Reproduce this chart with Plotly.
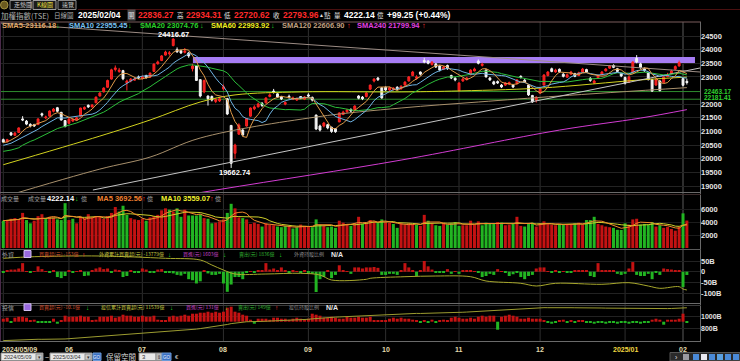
import numpy as np
import pandas as pd
import plotly.graph_objects as go

W, H = 740, 361

# ---------------- categories ----------------
month_labels = ["2024/05/09", "06", "07", "08", "09", "10", "11", "12", "2025/01", "02"]
month_days = [17, 19, 21, 22, 20, 19, 21, 22, 15, 2]

# ---------------- daily OHLC (TAIEX) ----------------
opens = [
    20700, 20620, 20950, 20860, 20960, 21460, 21380, 21260, 21250, 21250, 21650, 21500, 21560, 21740, 21870, 21700, 21400,
    21300, 21380, 21420, 21560, 21820, 21960, 21900, 22050, 22300, 22450, 22620, 22920, 23270, 23200, 23230, 22780, 22850, 22880, 23000,
    22950, 23050, 22990, 23200, 23480, 23600, 23800, 23850, 24150, 24000, 23960, 23900, 23880, 23300, 23400, 22900, 22450, 22300, 22280, 22100, 22120,
    22560, 22200, 21220, 20200, 20900, 21050, 21200, 21560, 21830, 21900, 22030, 22050, 22280, 22480, 22380, 22260, 22000, 22290, 22180, 22150, 22280, 22180,
    22340, 22250, 21600, 21200, 21200, 21250, 21150, 21100, 21350, 21620, 21720, 21800, 21800, 22300, 22260, 22280, 22550, 22850, 22960, 22600,
    22620, 22520, 22540, 22620, 22560, 22700, 22850, 23050, 22950, 23180, 23600, 23580, 23450, 23480, 23400, 23280, 23420, 23050, 22950,
    22500, 22850, 22900, 23080, 23220, 23580, 23420, 23250, 22960, 22820, 22830, 22700, 22700, 22740, 22700, 22750, 23020, 22880, 22700, 22320, 22150,
    22400, 22700, 23050, 23300, 23180, 23280, 23100, 22990, 23100, 23120, 23050, 23180, 23270, 22950, 22780, 22970, 23080, 23220, 23320, 23420, 23300, 23120,
    22980, 22800, 23150, 23680, 23480, 23300, 23150, 22900, 22700, 22850, 22800, 23010, 23130, 23280, 23400,
    22940, 22836.27,
]
highs = [
    20740, 20730, 20980, 20980, 21150, 21560, 21420, 21300, 21280, 21480, 21690, 21580, 21770, 21860, 21900, 21720, 21420,
    21480, 21470, 21530, 21870, 21920, 21990, 22000, 22280, 22440, 22620, 22900, 23300, 23420, 23330, 23260, 22900, 22960, 22990, 23050,
    23050, 23080, 23160, 23490, 23600, 23800, 23960, 23950, 24416.67, 24080, 24000, 24060, 23920, 23480, 23420, 22920, 22900, 22320, 22320, 22220, 22260,
    22720, 22230, 21240, 20550, 21300, 21100, 21490, 21880, 21960, 22060, 22080, 22250, 22400, 22560, 22400, 22290, 22100, 22350, 22280, 22240, 22300, 22300,
    22400, 22280, 21620, 21250, 21350, 21280, 21180, 21120, 21700, 21760, 21830, 21850, 21960, 22330, 22300, 22440, 22720, 22950, 23000, 22620,
    22650, 22640, 22620, 22660, 22690, 22840, 23030, 23220, 23060, 23200, 23700, 23620, 23580, 23500, 23420, 23400, 23450, 23080, 23000,
    22800, 22960, 23000, 23280, 23340, 23640, 23520, 23280, 23000, 22860, 22870, 22740, 22810, 22830, 22730, 22920, 23060, 22920, 22720, 22340, 22290,
    22600, 23100, 23210, 23340, 23300, 23310, 23140, 23120, 23220, 23150, 23190, 23330, 23300, 22990, 22900, 23090, 23210, 23320, 23440, 23460, 23330, 23150,
    23010, 23040, 23580, 23800, 23520, 23350, 23180, 22930, 22950, 22880, 23030, 23150, 23260, 23420, 23600,
    22960, 22934.31,
]
lows = [
    20580, 20600, 20840, 20830, 20950, 21380, 21230, 21150, 21170, 21240, 21540, 21450, 21540, 21700, 21700, 21400, 21150,
    21280, 21350, 21400, 21550, 21790, 21860, 21880, 22040, 22280, 22430, 22600, 22900, 23200, 23150, 22880, 22500, 22800, 22860, 22920,
    22900, 22940, 22970, 23190, 23450, 23580, 23780, 23780, 24120, 23880, 23840, 23860, 23700, 23200, 22850, 22250, 22400, 21950, 22100, 22040, 22080,
    22500, 21600, 19662.74, 20000, 20880, 20820, 21180, 21540, 21780, 21880, 21900, 22030, 22250, 22390, 22230, 22150, 21960, 22200, 22150, 22120, 22190, 22150,
    22260, 22100, 21050, 21000, 21150, 21080, 20950, 20950, 21340, 21600, 21680, 21700, 21780, 22180, 22150, 22250, 22520, 22800, 22850, 22200,
    22480, 22480, 22500, 22520, 22540, 22680, 22830, 23030, 22900, 23050, 23500, 23460, 23420, 23330, 23200, 23250, 23260, 22920, 22840,
    22450, 22820, 22870, 23060, 23200, 23460, 23380, 22980, 22850, 22700, 22740, 22590, 22670, 22700, 22590, 22720, 22940, 22780, 22300, 22050, 22060,
    22380, 22690, 23020, 23170, 23150, 23150, 22980, 22960, 23080, 22990, 23030, 23150, 23140, 22820, 22740, 22950, 23060, 23200, 23300, 23320, 23170, 22990,
    22720, 22780, 23140, 23500, 23300, 23180, 22870, 22450, 22680, 22470, 22780, 22990, 23100, 23260, 23380,
    22650, 22720.62,
]
closes = [
    20610, 20700, 20870, 20940, 21130, 21420, 21270, 21200, 21200, 21460, 21600, 21530, 21750, 21820, 21740, 21420, 21180,
    21460, 21440, 21500, 21860, 21880, 21900, 21970, 22260, 22410, 22590, 22870, 23260, 23330, 23250, 22930, 22850, 22920, 22920, 22960,
    23000, 22970, 23140, 23470, 23550, 23770, 23910, 23880, 24390, 23920, 23880, 23950, 23770, 23400, 22870, 22300, 22870, 22200, 22150, 22170, 22200,
    22640, 21640, 19830, 20500, 21240, 20870, 21470, 21860, 21900, 22010, 21950, 22230, 22340, 22450, 22260, 22190, 22060, 22260, 22230, 22190, 22230, 22265,
    22300, 22150, 21090, 21050, 21310, 21130, 21000, 20990, 21680, 21710, 21790, 21750, 21930, 22220, 22200, 22410, 22700, 22920, 22900, 22230,
    22520, 22600, 22590, 22550, 22660, 22810, 23000, 23180, 23000, 23100, 23550, 23500, 23540, 23360, 23250, 23360, 23300, 22960, 22890,
    22780, 22920, 22960, 23250, 23290, 23500, 23470, 23000, 22890, 22740, 22780, 22630, 22780, 22790, 22630, 22890, 22980, 22810, 22340, 22080, 22260,
    22560, 23070, 23180, 23200, 23250, 23190, 23020, 23080, 23180, 23020, 23150, 23290, 23180, 22870, 22850, 23050, 23180, 23290, 23400, 23350, 23200, 23035,
    22770, 23000, 23540, 23550, 23340, 23230, 22900, 22480, 22900, 22500, 23000, 23080, 23220, 23380, 23525,
    22694.71, 22793.96,
]
prior_closes = [20400, 20200, 20150, 20250, 19530, 19700, 20000, 20170, 19990, 20120,
                20380, 20400, 20220, 20420, 20520, 20560, 20530, 20600, 20650]

sma60_idx = [0, 25, 38, 51, 60, 77, 103, 116, 139, 165, 177]
sma60_val = [19780, 20830, 21420, 22080, 22340, 22450, 22450, 22480, 22590, 22890, 22993.92]
sma120_idx = [0, 25, 38, 51, 81, 103, 123, 144, 177]
sma120_val = [18600, 19620, 20060, 20760, 21530, 21860, 22080, 22300, 22606.90]
sma240_idx = [0, 55, 103, 144, 165, 177]
sma240_val = [17550, 18850, 19950, 21050, 21490, 21799.94]

# drawn objects (index, price)
band_idx = [49.1, 179.1]
band_price = [23470, 23730]
support_levels = [22463.17, 22181.41]
trend_down_idx = [-0.85, 180.4]
trend_down_price = [24977, 23180]
trend_up_idx = [23.2, 180.4]
trend_up_price = [18853, 23327]
high_mark = (44, 24416.67)
low_mark = (59, 19662.74)

# ---------------- volume (億) ----------------
volume = [
    4200, 4300, 4500, 4600, 4400, 5400, 4300, 3800, 4200, 4900, 5200, 4600, 4800, 4700, 4400, 4300, 6900,
    4300, 4500, 3800, 4800, 4600, 5200, 4700, 4900, 4800, 4500, 4900, 5400, 6300, 5600, 6500, 5100, 4600, 4400, 4300,
    4500, 4200, 4700, 4900, 5100, 5800, 6100, 5900, 5600, 6100, 4800, 5900, 5000, 5000, 5000, 5200, 4600, 4500, 3800, 3900, 4100,
    4400, 5400, 6800, 6100, 4700, 4600, 4400, 3700, 3900, 3700, 3300, 3800, 3600, 3500, 3300, 3200, 3400, 3300, 3000, 3200, 3600, 3400,
    3300, 3200, 4400, 3600, 3400, 3200, 3300, 3100, 4200, 3900, 3700, 3400, 3800, 4800, 3700, 3900, 4300, 4100, 3900, 4400,
    4000, 3900, 3700, 3100, 3800, 3600, 3800, 3700, 3600, 3400, 5100, 4200, 3800, 3500, 3400, 3900, 3600, 3800, 4000,
    3400, 3500, 3500, 4200, 3600, 4100, 3500, 3900, 3700, 3700, 4000, 3900, 3500, 3600, 3700, 4800, 3400, 3300, 3700, 3900, 3300,
    3800, 4100, 3700, 3600, 3500, 3600, 3600, 3700, 3600, 3800, 3900, 3600, 4300, 4300, 4800, 3700, 3500, 3300, 3200, 3100, 2800, 2770,
    3800, 3600, 4400, 4500, 3600, 3700, 3600, 4000, 3300, 3500, 3100, 3250, 2930, 2670, 3280,
    5330, 4222.14,
]

# ---------------- foreign investors net (B = 十億) ----------------
foreign_net = [
    -5, 8, 10, 10, 15, 40, 3, -3, 2, 25, 12, 3, -4, 5, -25, -30, -20,
    4, -5, 3, 6, -20, -18, 5, 15, 20, 12, 15, -4, 10, 8, -25, -20, 5, -6, -5,
    15, 10, -5, -6, 10, 12, -4, -6, -8, -15, -18, -10, -35, -40, -55, -45, 5, -8, -15, -15, -10,
    -55, -94, -60, -25, -25, -35, -5, 3, -4, 5, 8, 40, 10, 15, 5, 20, 4, -3, 5, 3, -4, 6,
    -5, -10, -95, -35, -25, 5, -30, -15, 30, 5, 3, -10, 20, 20, 15, 20, 20, 22, 18, -15,
    -15, -10, -10, -15, 5, 40, 20, 5, -20, 8, 50, 25, 10, -6, -5, -4, 12, -10, 3,
    -10, 5, 6, 4, 3, -3, -25, -20, -10, -15, 12, 3, -3, -20, -12, -4, -25, -35, -20, -15, 15,
    20, 20, 3, -3, 4, -2, 2, -5, -4, 5, 6, 5, 4, -20, -25, 40, 8, 6, 5, 4, -10, -15,
    -10, 15, 45, -15, -20, -20, -10, -35, -5, -15, 15, 12, 10, 5, 5,
    -72, -15.3,
]
foreign_cum_idx = [0, 8, 25, 42, 51, 54, 57, 60, 68, 77, 82, 85, 94, 95, 104, 112, 121, 125, 134, 138,
                   143, 155, 162, 167, 170, 175, 176, 177]
foreign_cum_val = [-1100, -460, -180, -1100, -1780, -3780, -5780, -7380, -7380, -7100, -7780, -9780, -9500,
                   -9100, -8460, -8180, -8460, -10180, -11100, -12180, -11100, -11500, -10860, -12180,
                   -13100, -12460, -13380, -13779]

# ---------------- investment trust net (B) ----------------
trust_net = [
    3, 4, -1, 4, 5, 5, 4, 1, 2, -1, -1, -1, -1, 3, -2, 1, 6,
    5, 5, 5, 6, 5, 5, 1, 2, 5, 5, 5, 6, 4, 5, 7, 6, 6, 5, 5,
    6, 5, 5, 6, 2, 1, 1, 5, 6, 5, 6, 7, 6, 8, 8, 9, 9, 10, 9, 10, 9,
    10, 14, 15, 10, 9, 7, 6, 2, -2, 3, 3, 3, 2, 4, 4, 3, 3, 2, 3, 4, 3, 2,
    3, 8, 7, 6, 4, 4, 5, 4, 3, 3, 5, 4, 4, 5, 4, 4, 5, 1, 1, 1,
    1, 3, 4, 3, 4, 3, 3, 2, 1, -1, 1, -1, 2, -1, 1, 2, 1, 4, 5,
    4, 3, 3, 4, 3, 5, 6, 5, 6, 6, -8, 5, 6, 7, 6, 5, 3, 3, 4, 3, 3,
    3, 1, -1, -2, -1, 1, 2, -1, 1, -1, 1, 1, -1, -1, -2, -1, -1, -2, -1, -1, -2, -1,
    -1, -2, -1, -1, -2, -1, -1, 2, 3, 2, -3, 2, 2, 2, 3,
    8, -1.01,
]
trust_cum_end = 1153.9

N = len(closes)
assert all(len(a) == N for a in [opens, highs, lows, volume, foreign_net, trust_net]), "length"
assert sum(month_days) == N

xi = np.arange(N)
month_start = np.concatenate([[0], np.cumsum(month_days)[:-1]])

# ---------------- derived series ----------------
allc = pd.Series(prior_closes + closes, dtype=float)
sma5 = allc.rolling(5).mean().values[len(prior_closes):]
sma10 = allc.rolling(10).mean().values[len(prior_closes):]
sma20 = allc.rolling(20).mean().values[len(prior_closes):]

vs = pd.Series(volume, dtype=float)
vma5 = vs.rolling(5, min_periods=1).mean().values
vma10 = vs.rolling(10, min_periods=1).mean().values
prev_close = [prior_closes[-1]] + closes[:-1]
RED, GREEN = "#c41212", "#22b522"
vol_colors = [RED if c >= p else GREEN for c, p in zip(closes, prev_close)]
f_colors = [RED if v >= 0 else GREEN for v in foreign_net]
t_colors = [RED if v >= 0 else GREEN for v in trust_net]
trust_cum = trust_cum_end - float(np.sum(trust_net)) + np.cumsum(trust_net)

# ---------------- geometry helpers ----------------
PX0, DPX, PLOT_R = 3.3, 3.862, 700.0
def ix2px(i):
    return PX0 + DPX * i
x_range = [(0 - PX0) / DPX, (PLOT_R - PX0) / DPX]
def py2price(py):
    return 19000 + (186 - py) * 5500 / 150.0
def fy(py):
    return 1 - py / H

FONT = "Liberation Sans, Noto Sans CJK TC, DejaVu Sans"
CJK = "Noto Sans CJK TC, Liberation Sans"

fig = go.Figure()

# ---- main panel ----
fig.add_trace(go.Candlestick(
    x=xi, open=opens, high=highs, low=lows, close=closes, xaxis="x", yaxis="y",
    increasing=dict(line=dict(color="#ff2424", width=1), fillcolor="#e41a1a"),
    decreasing=dict(line=dict(color="#f4f4f4", width=1), fillcolor="#f4f4f4"),
    whiskerwidth=0, hoverinfo="skip", showlegend=False))

def line(x, y, color, width=1, yaxis="y", shape="linear"):
    fig.add_trace(go.Scatter(x=x, y=y, mode="lines", xaxis="x", yaxis=yaxis,
                             line=dict(color=color, width=width, shape=shape),
                             hoverinfo="skip", showlegend=False))

line(sma240_idx, sma240_val, "#d23cd2", 1, shape="spline")
line(sma120_idx, sma120_val, "#a8906c", 1, shape="spline")
line(sma60_idx, sma60_val, "#d2d21e", 1, shape="spline")
line(trend_up_idx, trend_up_price, "#c4c4c4", 1)
line(trend_down_idx, trend_down_price, "#9c8c84", 1)
line(xi, sma20, "#2cbf3a", 1)
line(xi, sma10, "#6fb4e4", 1)
line(xi, sma5, "#e09a48", 1)

# ---- volume ----
fig.add_trace(go.Bar(x=xi, y=volume, marker=dict(color=vol_colors, line=dict(width=0)),
                     xaxis="x", yaxis="y2", hoverinfo="skip", showlegend=False))
line(xi, vma10, "#cfcf2a", 1, yaxis="y2")
line(xi, vma5, "#f08a2c", 1, yaxis="y2")

# ---- foreign ----
fig.add_trace(go.Bar(x=xi, y=foreign_net, marker=dict(color=f_colors, line=dict(width=0)),
                     xaxis="x", yaxis="y3", hoverinfo="skip", showlegend=False))
line(foreign_cum_idx, foreign_cum_val, "#a8a82c", 1, yaxis="y4", shape="spline")

# ---- investment trust ----
fig.add_trace(go.Bar(x=xi, y=trust_net, marker=dict(color=t_colors, line=dict(width=0)),
                     xaxis="x", yaxis="y5", hoverinfo="skip", showlegend=False))
line(xi, trust_cum, "#9c9c30", 1, yaxis="y6")

# ---------------- shapes ----------------
shapes = []
def hl(y, x0, x1, color, width=1, layer="above"):
    shapes.append(dict(type="line", xref="paper", yref="paper", x0=x0 / W, x1=x1 / W,
                       y0=fy(y), y1=fy(y), line=dict(color=color, width=width), layer=layer))
def vl(x, y0, y1, color, width=1, layer="above"):
    shapes.append(dict(type="line", xref="paper", yref="paper", x0=x / W, x1=x / W,
                       y0=fy(y0), y1=fy(y1), line=dict(color=color, width=width), layer=layer))
def rc(x0, y0, x1, y1, fill, lc=None, layer="above"):
    shapes.append(dict(type="rect", xref="paper", yref="paper", x0=x0 / W, x1=x1 / W,
                       y0=fy(y1), y1=fy(y0), fillcolor=fill,
                       line=dict(color=lc or fill, width=1 if lc else 0), layer=layer))

# month grid lines
for k, s in enumerate(month_start):
    col = "#5a5a5a" if k == len(month_start) - 1 else "#2e2e2e"
    shapes.append(dict(type="line", xref="x", yref="paper", x0=s, x1=s, y0=fy(341), y1=fy(22),
                       line=dict(color=col, width=1), layer="below"))
# resistance band
shapes.append(dict(type="rect", xref="x", yref="y", x0=band_idx[0], x1=band_idx[1],
                   y0=band_price[0], y1=band_price[1], fillcolor="#a67cf4",
                   line=dict(width=0), layer="below"))
# support lines
for lv in support_levels:
    shapes.append(dict(type="line", xref="paper", yref="y", x0=0, x1=PLOT_R / W, y0=lv, y1=lv,
                       line=dict(color="#2f8c2f", width=1), layer="below"))

# frame & separators
hl(22, 0, 701, "#7a5c5c")
vl(700.5, 22, 341, "#6a6a6a")
vl(0.5, 22, 341, "#4a2a4a")
hl(192.5, 0, 701, "#6a6a6a")
hl(194.5, 0, 701, "#3a2a2a")
hl(249.5, 0, 701, "#5a5a5a")
hl(303.5, 0, 701, "#6a6a6a")
hl(305.5, 0, 701, "#3a3a3a")
hl(341.5, 0, 701, "#6a6a6a")
hl(9.5, 78, 740, "#4a1010")

# top tabs
shapes.append(dict(type="circle", xref="paper", yref="paper", x0=0.5 / W, x1=8 / W,
                   y0=fy(9), y1=fy(1), fillcolor="#6a5a20", line=dict(color="#a09040", width=1)))
rc(10, 0.5, 31, 9.5, "#101010", "#8a8a8a")
rc(33, 0.5, 56, 9.5, "#1c1c1c", "#a0a0a0")
rc(58, 0.5, 76, 9.5, "#101010", "#8a8a8a")

# header icon boxes
rc(24, 250.5, 31, 257.5, "#9a6ae0", "#d0c0f0")
rc(24, 303.8, 31, 310.5, "#9a6ae0", "#d0c0f0")

# bottom controls
rc(1, 353, 43, 360.5, "#e8e8e8", "#909090")
rc(36, 354, 42, 360, "#c8c8c8", "#909090")
rc(50, 353, 92, 360.5, "#e8e8e8", "#909090")
rc(85, 354, 91, 360, "#c8c8c8", "#909090")
rc(93, 353, 101, 360.5, "#3d72c4", "#6a9ad8")
rc(139, 353, 156, 360.5, "#e8e8e8", "#909090")
rc(156, 353, 162, 360.5, "#b8b8b8", "#909090")
rc(162, 353, 171, 360.5, "#3d72c4", "#6a9ad8")
rc(670, 352.5, 740, 361, "#2a2a2a", "#555555")
for k, xx in enumerate([683, 693, 701, 709, 717, 725, 733]):
    rc(xx, 354, xx + 6, 360, ["#9a9aa0", "#4a8ad8", "#e8e8f0", "#4a8ad8", "#5aa0e0", "#4a8ad8", "#4a8ad8"][k])

# ---------------- annotations ----------------
ann = []
def T(x, y, s, color="#c8c8c8", size=7.5, anchor="left", bold=False, family=FONT, bg=None):
    d = dict(x=x / W, y=fy(y), xref="paper", yref="paper", text=("<b>%s</b>" % s) if bold else s,
             showarrow=False, xanchor=anchor, yanchor="middle", borderpad=0,
             font=dict(color=color, size=size, family=family))
    if bg:
        d["bgcolor"] = bg
    ann.append(d)

UPC, DNC = "#ff3030", "#22d022"
# tabs
T(13, 5, "走勢圖", "#c8c8c8", 6, family=CJK)
T(36, 5, "K線圖", "#e8e040", 6, family=CJK)
T(61, 5, "速覽", "#c8c8c8", 6, family=CJK)

# row 1
T(0, 15, "加權指數(TSE)", "#b0b0b0", 7.5, family=CJK)
T(53, 15, "日線圖", "#b0b0b0", 6.5, family=CJK)
T(77, 15, "2025/02/04", "#ffffff", 8.5, bold=True)
T(127, 15, "開", "#e0e0e0", 6.5, family=CJK, bg="#505050")
T(137, 15, "22836.27", "#ff2a2a", 8.5, bold=True)
T(176, 15, "高", "#e0e0e0", 6.5, family=CJK)
T(185, 15, "22934.31", "#ff2a2a", 8.5, bold=True)
T(223, 15, "低", "#e0e0e0", 6.5, family=CJK)
T(233, 15, "22720.62", "#ff2a2a", 8.5, bold=True)
T(272, 15, "收", "#e0e0e0", 6.5, family=CJK)
T(282, 15, "22793.96", "#ff2a2a", 8.5, bold=True)
T(318, 15, "▲", "#e0e0e0", 5)
T(323, 15, "點", "#e0e0e0", 6.5, family=CJK)
T(333, 15, "量", "#e0e0e0", 6.5, family=CJK)
T(343, 15, "4222.14", "#ffffff", 8.5, bold=True)
T(376, 15, "億", "#e0e0e0", 6.5, family=CJK)
T(386, 15, "+99.25 (+0.44%)", "#ffffff", 8.5, bold=True)

# row 2: moving averages legend
T(1, 25, "SMA5-23116.18", "#e0a868", 7.5, bold=True)
T(55, 25, "↓", DNC, 7.5, bold=True)
T(68, 25, "SMA10 22955.45", "#78c0f0", 7.5, bold=True)
T(127, 25, "↓", DNC, 7.5, bold=True)
T(139, 25, "SMA20 23074.76", "#28d028", 7.5, bold=True)
T(199, 25, "↓", DNC, 7.5, bold=True)
T(210, 25, "SMA60 22993.92", "#f0f020", 7.5, bold=True)
T(270, 25, "↓", DNC, 7.5, bold=True)
T(281, 25, "SMA120 22606.90", "#c0a080", 7.5, bold=True)
T(346, 25, "↑", UPC, 7.5, bold=True)
T(356, 25, "SMA240 21799.94", "#e040e0", 7.5, bold=True)
T(421, 25, "↑", UPC, 7.5, bold=True)

# price extremes
T(ix2px(high_mark[0]), 35, "%.2f" % high_mark[1], "#ffffff", 7.5, anchor="center", bold=True)
T(ix2px(low_mark[0]) + 4, 172, "%.2f" % low_mark[1], "#ffffff", 7.5, anchor="center", bold=True)
# support labels
for lv, sh in zip(support_levels, [0, 2]):
    ann.append(dict(x=702.5 / W, y=lv, xref="paper", yref="y", text="<b>%.2f</b>" % lv,
                    showarrow=False, xanchor="left", yanchor="middle", borderpad=0, yshift=sh,
                    font=dict(color="#2ed02e", size=6.5, family=FONT)))

# volume header
T(0, 198, "成交量", "#a0a0a0", 6, family=CJK)
T(27, 198, "成交量", "#a0a0a0", 6, family=CJK)
T(46, 198, "4222.14", "#ffffff", 7.5, bold=True)
T(74, 198, "↓", DNC, 7, bold=True)
T(80, 198, "億", "#a0a0a0", 6, family=CJK)
T(96, 198, "MA5 3692.56", "#f08030", 7.5, bold=True)
T(141, 198, "↑", UPC, 7, bold=True)
T(146, 198, "億", "#a0a0a0", 6, family=CJK)
T(160, 198, "MA10 3559.07", "#f0f030", 7.5, bold=True)
T(209, 198, "↑", UPC, 7, bold=True)
T(214, 198, "億", "#a0a0a0", 6, family=CJK)

# foreign header
HS = 5
T(1, 254, "外資", "#a0a0a0", 6, family=CJK)
T(38, 254, "買賣超(元) -153億", "#d0502c", HS, family=CJK)
T(81, 254, "↑", UPC, 6.5, bold=True)
T(98, 254, "外資累計買賣超(元) -13779億", "#c8c840", HS, family=CJK)
T(167, 254, "↓", DNC, 6.5, bold=True)
T(182, 254, "買進(元) 1603億", "#c040c0", HS, family=CJK)
T(222, 254, "↓", DNC, 6.5, bold=True)
T(238, 254, "賣出(元) 1836億", "#30b030", HS, family=CJK)
T(278, 254, "↓", DNC, 6.5, bold=True)
T(293, 254, "外資持股比例", "#909090", HS, family=CJK)
T(330, 254, "N/A", "#e8e8e8", 7, bold=True)

# trust header
T(1, 307, "投信", "#a0a0a0", 6, family=CJK)
T(38, 307, "買賣超(元) -10.1億", "#d0502c", HS, family=CJK)
T(85, 307, "↓", DNC, 6.5, bold=True)
T(100, 307, "投信累計買賣超(元) 11539億", "#c8c840", HS, family=CJK)
T(169, 307, "↓", DNC, 6.5, bold=True)
T(185, 307, "買進(元) 131億", "#c040c0", HS, family=CJK)
T(224, 307, "↓", DNC, 6.5, bold=True)
T(237, 307, "賣出(元) 149億", "#30b030", HS, family=CJK)
T(274, 307, "↑", UPC, 6.5, bold=True)
T(288, 307, "投信持股比例", "#909090", HS, family=CJK)
T(325, 307, "N/A", "#e8e8e8", 7, bold=True)

# date axis labels
for k, (lab, s) in enumerate(zip(month_labels, month_start)):
    col = "#f0d840" if lab == "2025/01" else "#e4dcae"
    if k == 0:
        T(1, 349, lab, col, 7, bold=True)
    else:
        T(ix2px(s), 349, lab, col, 7, anchor="center", bold=True)

# controls text
T(2.5, 357, "2024/05/09", "#303030", 5.5)
T(39, 357, "▾", "#303030", 5, anchor="center")
T(46.5, 357, "~", "#e0e0e0", 7, anchor="center")
T(51.5, 357, "2025/03/04", "#303030", 5.5)
T(88, 357, "▾", "#303030", 5, anchor="center")
T(97, 357, "GO", "#e8f0ff", 4.5, anchor="center")
T(105, 356, "保留空間", "#d8d8d8", 7.5, family=CJK)
T(141, 357, "3", "#303030", 6)
T(159, 357, "⇕", "#303030", 5, anchor="center")
T(166.5, 357, "GO", "#e8f0ff", 4.5, anchor="center")
T(174, 357, "€", "#d0d0d0", 6)
T(676, 357, "›", "#e0e0e0", 7, anchor="center")

# ---------------- axes ----------------
tick_font = dict(color="#e4e4e4", size=7.5, family=FONT, weight="bold")
main_ticks = [v for v in range(19000, 24501, 500) if v != 22500]
layout = dict(
    width=W, height=H, margin=dict(l=0, r=0, t=0, b=0),
    paper_bgcolor="#000000", plot_bgcolor="#000000",
    showlegend=False, bargap=0.22, hovermode=False,
    xaxis=dict(domain=[0, PLOT_R / W], range=x_range, visible=False, rangeslider=dict(visible=False),
               anchor="y"),
    yaxis=dict(domain=[fy(192), fy(22)], range=[py2price(192), py2price(22)], anchor="x", side="right",
               tickvals=main_ticks, ticktext=[str(v) for v in main_ticks], showgrid=True,
               gridcolor="#232323", zeroline=False, showline=False, ticks="", tickfont=tick_font),
    yaxis2=dict(domain=[fy(249), fy(192)], range=[-154, 8615], anchor="x", side="right",
                tickvals=[2000, 4000, 6000], showgrid=True, gridcolor="#1c1c1c", zeroline=False,
                ticks="", tickfont=tick_font),
    yaxis3=dict(domain=[fy(303), fy(250)], range=[-146.3, 101.4], anchor="x", side="right",
                tickvals=[-100, -50, 0, 50], ticktext=["-100B", "-50B", "0", "50B"], showgrid=True,
                gridcolor="#222222", zeroline=False, ticks="", tickfont=tick_font),
    yaxis4=dict(overlaying="y3", range=[-18979, 2221], visible=False, anchor="x"),
    yaxis5=dict(domain=[fy(341), fy(305)], range=[-19.3, 16.7], anchor="x", visible=False),
    yaxis6=dict(overlaying="y5", range=[581, 1201.7], anchor="x", side="right",
                tickvals=[800, 1000], ticktext=["800B", "1000B"], showgrid=True, gridcolor="#222222",
                zeroline=False, ticks="", tickfont=dict(color="#e4e4e4", size=7, family=FONT, weight="bold")),
    shapes=shapes, annotations=ann,
)
fig.update_layout(**layout)
fig.write_html("out.html")
